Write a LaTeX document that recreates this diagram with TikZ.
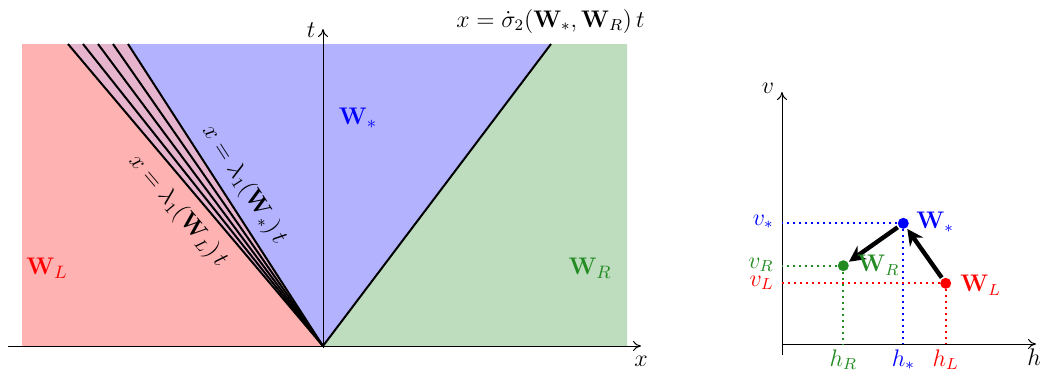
\documentclass[tikz,border=0pt]{standalone}
\usetikzlibrary{arrows.meta}
\definecolor{mygreen}{RGB}{34,139,34}
\definecolor{fanc}{RGB}{230,180,205}
\definecolor{redreg}{RGB}{255,178,178}
\definecolor{bluereg}{RGB}{178,178,255}
\definecolor{greenreg}{RGB}{190,220,190}
\tikzset{
  axis/.style={line width=0.5pt,-{To[length=4pt,width=5pt]}},
  wave/.style={line width=1pt,black},
  lbl/.style={inner sep=1pt,font=\fontsize{12}{14}\selectfont},
  big/.style={inner sep=1pt,font=\fontsize{13}{15}\selectfont},
  dot/.style={circle,inner sep=0pt,minimum size=5.5pt},
  guide/.style={line width=1pt,dash pattern=on 1pt off 2pt},
  jump/.style={line width=2.2pt,-{Stealth[length=8pt,width=8pt]},shorten >=0.5pt,shorten <=0.5pt},
}
\begin{document}
\begin{tikzpicture}[x=0.5pt,y=-0.5pt]
\useasboundingbox (0,0) rectangle (1048,372);
% ---- left panel
\coordinate (O) at (323,346);
\coordinate (TL) at (22,44);
\coordinate (TR) at (627,44);
\coordinate (BL) at (22,346);
\coordinate (BR) at (627,346);
\coordinate (f1) at (68,44);
\coordinate (f2) at (83,44);
\coordinate (f3) at (98,44);
\coordinate (f4) at (113,44);
\coordinate (f5) at (128,44);
\coordinate (s) at (551,44);
\fill[redreg] (BL) -- (TL) -- (f1) -- (O) -- cycle;
\fill[fanc] (O) -- (f1) -- (f5) -- cycle;
\fill[bluereg] (O) -- (f5) -- (s) -- cycle;
\fill[greenreg] (O) -- (s) -- (TR) -- (BR) -- cycle;
\foreach \f in {f1,f2,f3,f4,f5} \draw[wave] (O) -- (\f);
\draw[wave] (O) -- (s);
\coordinate (xa0) at (8,346);
\coordinate (xa1) at (641,346);
\coordinate (ta0) at (323,348);
\coordinate (ta1) at (323,29);
\draw[axis] (xa0) -- (xa1);
\draw[axis] (ta0) -- (ta1);
\node[big] (xl) at (641,361) {$x$};
\node[big] (tl) at (311,30) {$t$};
\node[lbl,anchor=base east] (sl) at (647,27) {$x=\dot{\sigma}_2(\mathbf{W}_*,\mathbf{W}_R)\,t$};
\node[lbl,rotate=-57.2] (l5) at (244,185) {$x=\lambda_1(\mathbf{W}_*)\,t$};
\node[lbl,rotate=-49.8] (l1) at (178,211) {$x=\lambda_1(\mathbf{W}_L)\,t$};
\node[big,blue] (ws) at (358,118) {$\mathbf{W}_*$};
\node[big,red] (wl) at (47,268) {$\mathbf{W}_L$};
\node[big,mygreen] (wr) at (590,268) {$\mathbf{W}_R$};
% ---- right panel
\coordinate (ha0) at (782,344);
\coordinate (ha1) at (1036,344);
\coordinate (va0) at (782,355);
\coordinate (va1) at (782,92);
\draw[axis] (ha0) -- (ha1);
\draw[axis] (va0) -- (va1);
\node[big] (hl) at (1034,357) {$h$};
\node[big] (vl) at (768,88) {$v$};
\node[dot,fill=blue] (Ps) at (903.3,223.3) {};
\node[dot,fill=mygreen] (Pr) at (843.3,265.7) {};
\node[dot,fill=red] (Pl) at (945.7,283.3) {};
\coordinate (hs) at (903.3,344);
\coordinate (hr) at (843.3,344);
\coordinate (hL) at (945.7,344);
\coordinate (vs) at (782,223.3);
\coordinate (vr) at (782,265.7);
\coordinate (vL) at (782,283.3);
\draw[guide,draw=blue] (Ps) -- (hs); \draw[guide,draw=blue] (Ps) -- (vs);
\draw[guide,draw=mygreen] (Pr) -- (hr); \draw[guide,draw=mygreen] (Pr) -- (vr);
\draw[guide,draw=red] (Pl) -- (hL); \draw[guide,draw=red] (Pl) -- (vL);
\draw[jump] (Pl) -- (Ps);
\draw[jump] (Ps) -- (Pr);
\node[lbl,blue,anchor=west] (Lws) at (914,222) {$\mathbf{W}_*$};
\node[lbl,mygreen,anchor=west] (Lwr) at (855,265) {$\mathbf{W}_R$};
\node[lbl,red,anchor=west] (Lwl) at (958,285) {$\mathbf{W}_L$};
\node[lbl,blue,anchor=east] (Lvs) at (776,222) {$v_*$};
\node[lbl,mygreen,anchor=east] (Lvr) at (776,265) {$v_R$};
\node[lbl,red,anchor=east] (Lvl) at (776,283) {$v_L$};
\node[lbl,mygreen,anchor=north] (Lhr) at (843.3,347) {$h_R$};
\node[lbl,blue,anchor=north] (Lhs) at (903.3,347) {$h_*$};
\node[lbl,red,anchor=north] (Lhl) at (945.7,347) {$h_L$};
\end{tikzpicture}
\end{document}
